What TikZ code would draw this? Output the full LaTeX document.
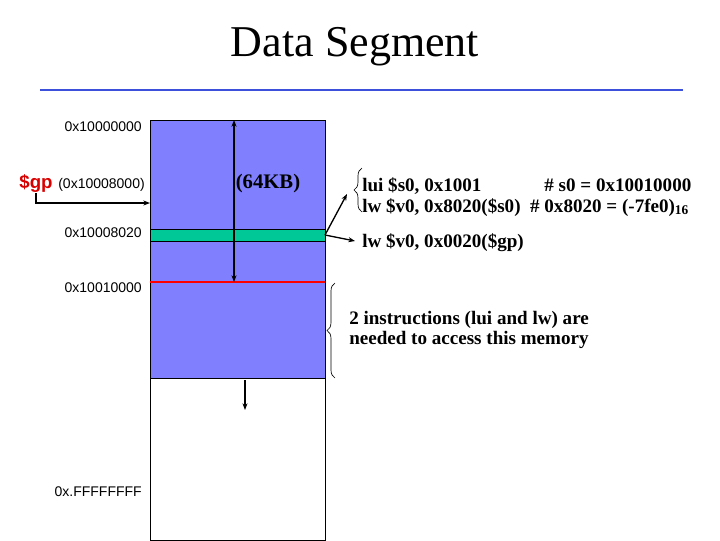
\documentclass[tikz,border=0pt]{standalone}
\usepackage{fontspec}
\setmainfont{Liberation Serif}
\newfontfamily\arialf{Liberation Sans}
\usetikzlibrary{decorations.pathreplacing,arrows.meta}
\definecolor{memblue}{RGB}{128,128,255}
\definecolor{memgreen}{RGB}{0,200,150}
\definecolor{titleblue}{RGB}{60,80,220}
\begin{document}
\begin{tikzpicture}[x=0.75pt,y=-0.75pt,
  addr/.style={font=\arialf\fontsize{10.5}{12}\selectfont, anchor=east, inner sep=0pt},
  code/.style={font=\bfseries\fontsize{14.3}{15.2}\selectfont, anchor=west, inner sep=0pt, align=left},
  arr/.style={-{Stealth[length=5pt]}, line width=1pt},
  br/.style={decorate, decoration={brace, amplitude=6pt}, line width=0.5pt}]
\useasboundingbox (0,0) rectangle (720,540);
\node (title) at (355,47) {\fontsize{33}{36}\selectfont Data Segment};
\draw[titleblue, line width=2pt] (40,90) -- (683,90);
% memory
\fill[memblue] (150,120) rectangle (325,378);
\fill[memgreen] (150,229) rectangle (325,241);
\draw[black] (150,229) rectangle (325,241);
\draw (150,120) rectangle (325,540);
\draw (150,378) -- (325,378);
\draw[red, line width=2.2pt] (150,282) -- (325,282);
\coordinate (top) at (234,120); \coordinate (bot) at (234,282);
\draw[{Stealth[length=5pt]}-{Stealth[length=5pt]}, line width=1pt] (top) -- (bot);
\coordinate (d1) at (245,380); \coordinate (d2) at (245,410);
\draw[arr] (d1) -- (d2);
\node (kb) at (268,184) {\bfseries\fontsize{15.5}{17}\selectfont (64KB)};
% labels
\node[addr] (a1) at (142,127) {0x10000000};
\node[addr] (a2) at (145,185) {(0x10008000)};
\node[font=\arialf\bfseries\fontsize{14}{16}\selectfont, text=red!85!black, inner sep=0pt] (gp) at (36,184) {\$gp};
\node[addr] (a3) at (142,233) {0x10008020};
\node[addr] (a4) at (142,288) {0x10010000};
\node[addr] (a5) at (142,492) {0x.FFFFFFFF};
\coordinate (gpc) at (36,203); \coordinate (gpe) at (150,203);
\draw[arr] (gp.south -| gpc) -- (gpc) -- (gpe);
% code
\node[code] (c1) at (362,197) {lui \$s0, 0x1001\hspace{3.3em}\# s0 = 0x10010000\\lw \$v0, 0x8020(\$s0) \ \# 0x8020 = (-7fe0)$_{\mathbf{16}}$};
\draw[br] (362,212) -- (362,168);
\node[code] (c2) at (362,243) {lw \$v0, 0x0020(\$gp)};
\coordinate (g) at (325,235);
\coordinate (b1) at (347,194);
\coordinate (b2) at (355,241);
\draw[arr] (g) -- (b1);
\draw[arr] (g) -- (b2);
\draw[br] (335,378) -- (335,283);
\node[code] (c3) at (349,330) {2 instructions (lui and lw) are\\needed to access this memory};
\end{tikzpicture}
\end{document}
